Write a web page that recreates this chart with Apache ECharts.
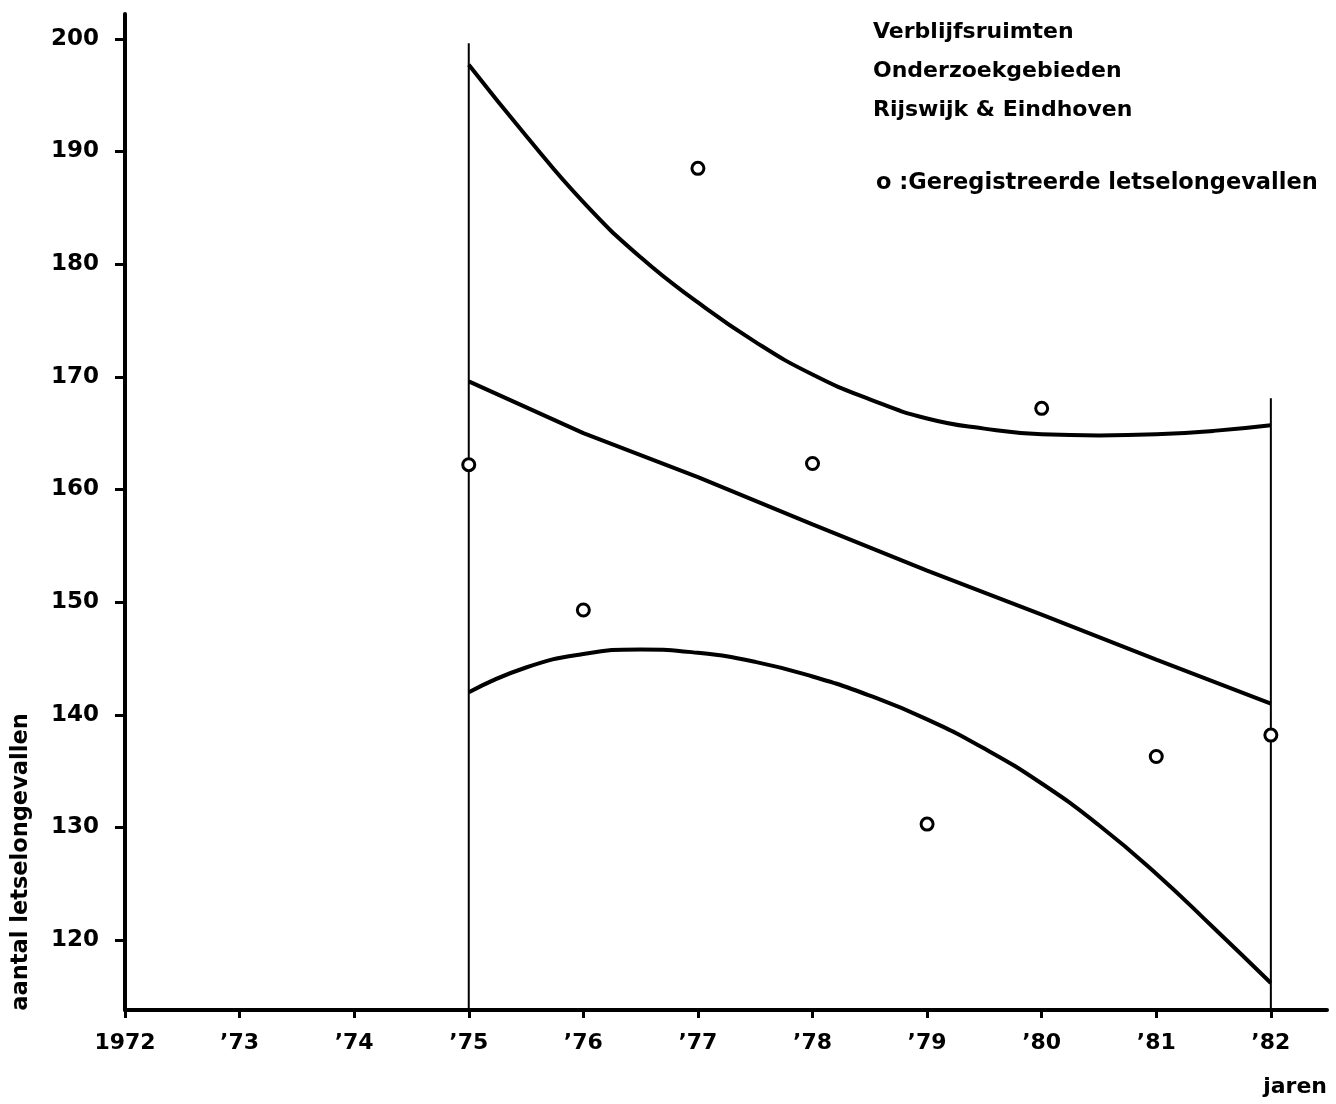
<!DOCTYPE html>
<html>
<head>
<meta charset="utf-8">
<script src="https://cdn.jsdelivr.net/npm/echarts@6/dist/echarts.min.js"></script>
<style>
html,body{margin:0;padding:0;background:#fff;}
#chart{width:1336px;height:1104px;}
</style>
</head>
<body>
<div id="chart"></div>
<script>
// Data
const years = [1975, 1976, 1977, 1978, 1979, 1980, 1981, 1982];
const observed = [162.2, 149.3, 188.5, 162.3, 130.3, 167.2, 136.3, 138.2];
const trendYears = [1975, 1976, 1977, 1978, 1979, 1980, 1981, 1982];
const trend = [169.6, 165.0, 161.1, 156.9, 152.8, 148.9, 144.9, 141.0];
const bandYears = [1975, 1975.5, 1976, 1976.5, 1977, 1977.5, 1978, 1978.5, 1979, 1979.5, 1980, 1980.5, 1981, 1981.5, 1982];
const upperBand = [197.7, 191.4, 185.5, 180.6, 176.6, 173.1, 170.2, 168.0, 166.3, 165.4, 164.9, 164.8, 164.9, 165.2, 165.7];
const lowerBand = [142.0, 144.2, 145.4, 145.8, 145.5, 144.7, 143.4, 141.7, 139.6, 137.0, 133.9, 130.2, 125.9, 121.1, 116.2];
const startLine = [[1975, 199.6], [1975, 113.8]];
const endLine = [[1982, 168.1], [1982, 113.8]];
const xTicks = [1972, 1973, 1974, 1975, 1976, 1977, 1978, 1979, 1980, 1981, 1982];
const yTicks = [120, 130, 140, 150, 160, 170, 180, 190, 200];
const titleLines = ['Verblijfsruimten', 'Onderzoekgebieden', 'Rijswijk & Eindhoven'];
const legendText = 'o :Geregistreerde letselongevallen';
const yName = 'aantal letselongevallen';
const xName = 'jaren';

const FONT = '"DejaVu Sans", "Liberation Sans", sans-serif';
const chart = echarts.init(document.getElementById('chart'), null, {renderer: 'canvas'});

const pair = (xs, ys) => xs.map((x, i) => [x, ys[i]]);
const lineStyleThick = {color: '#000', width: 4};

chart.setOption({
  backgroundColor: '#fff',
  animation: false,
  grid: {left: 125, top: 14, right: 9, bottom: 94, containLabel: false},
  xAxis: {
    type: 'value', min: 1972, max: 1982.49,
    splitLine: {show: false},
    axisLine: {show: true, lineStyle: {color: '#000', width: 4}},
    axisTick: {show: true, customValues: xTicks, length: 8, lineStyle: {color: '#000', width: 3}},
    axisLabel: {
      customValues: xTicks, margin: 22, color: '#000', fontFamily: FONT, fontWeight: 'bold', fontSize: 22,
      formatter: v => v === 1972 ? '1972' : '\u2019' + String(v).slice(2)
    }
  },
  yAxis: {
    type: 'value', min: 113.8, max: 202.2,
    splitLine: {show: false},
    axisLine: {show: true, lineStyle: {color: '#000', width: 4}},
    axisTick: {show: true, customValues: yTicks, length: 10, lineStyle: {color: '#000', width: 3}},
    axisLabel: {customValues: yTicks, margin: 26, color: '#000', fontFamily: FONT, fontWeight: 'bold', fontSize: 23}
  },
  series: [
    {type: 'line', data: startLine, symbol: 'none', lineStyle: {color: '#000', width: 2}, silent: true},
    {type: 'line', data: endLine, symbol: 'none', lineStyle: {color: '#000', width: 2}, silent: true},
    {type: 'line', data: pair(bandYears, upperBand), symbol: 'none', smooth: 0.5, lineStyle: lineStyleThick},
    {type: 'line', data: pair(bandYears, lowerBand), symbol: 'none', smooth: 0.5, lineStyle: lineStyleThick},
    {type: 'line', data: pair(trendYears, trend), symbol: 'none', lineStyle: lineStyleThick},
    {type: 'scatter', data: pair(years, observed), symbol: 'circle', symbolSize: 12, z: 10,
     itemStyle: {color: '#fff', borderColor: '#000', borderWidth: 3, opacity: 1}}
  ],
  graphic: [
    {type: 'text', x: 873, y: 32, style: {text: titleLines[0], font: 'bold 22px ' + FONT, fill: '#000', textVerticalAlign: 'middle'}},
    {type: 'text', x: 873, y: 71, style: {text: titleLines[1], font: 'bold 22px ' + FONT, fill: '#000', textVerticalAlign: 'middle'}},
    {type: 'text', x: 873, y: 110, style: {text: titleLines[2], font: 'bold 22px ' + FONT, fill: '#000', textVerticalAlign: 'middle'}},
    {type: 'text', x: 876, y: 183, style: {text: legendText, font: 'bold 22.5px ' + FONT, fill: '#000', textVerticalAlign: 'middle'}},
    {type: 'text', x: 21, y: 862, rotation: Math.PI / 2, style: {text: yName, font: 'bold 22.5px ' + FONT, fill: '#000', textAlign: 'center', textVerticalAlign: 'middle'}},
    {type: 'text', x: 1327, y: 1087, style: {text: xName, font: 'bold 22px ' + FONT, fill: '#000', textAlign: 'right', textVerticalAlign: 'middle'}}
  ]
});
</script>
</body>
</html>
